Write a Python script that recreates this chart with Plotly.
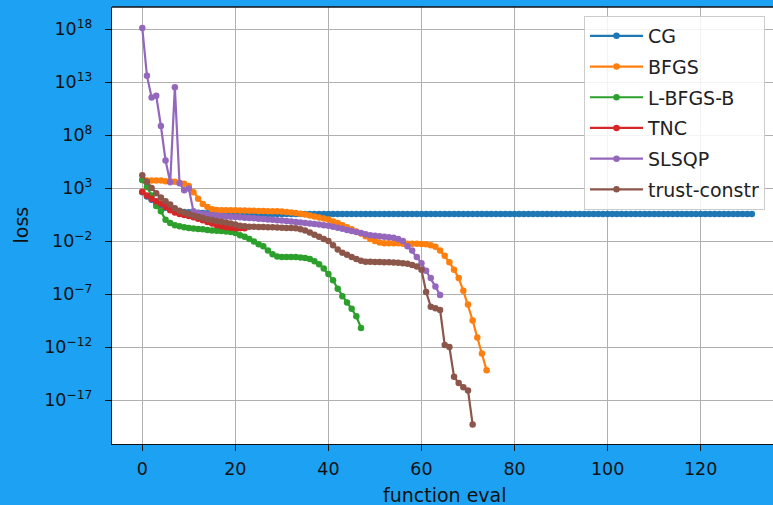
import numpy as np
import plotly.graph_objects as go

# log10(loss) per function evaluation
log_cg = [2.6, 2.2, 1.9, 1.6, 1.4, 1.15, 0.95, 0.85, 0.8, 0.75, 0.72, 0.69, 0.67, 0.65, 0.63, 0.62,
          0.6, 0.6, 0.59, 0.59, 0.58, 0.58, 0.57, 0.57, 0.56, 0.56, 0.56, 0.56, 0.55, 0.55,
          0.55, 0.55, 0.55, 0.55, 0.55, 0.55, 0.55, 0.55, 0.55, 0.55, 0.55, 0.55, 0.55, 0.55,
          0.55, 0.55, 0.55, 0.55, 0.55, 0.55, 0.55, 0.55, 0.55, 0.55, 0.55, 0.55, 0.55, 0.55,
          0.55, 0.55, 0.55, 0.55, 0.55, 0.55, 0.55, 0.55, 0.55, 0.55, 0.55, 0.55, 0.55, 0.55,
          0.55, 0.55, 0.55, 0.55, 0.55, 0.55, 0.55, 0.55, 0.55, 0.55, 0.55, 0.55, 0.55, 0.55,
          0.55, 0.55, 0.55, 0.55, 0.55, 0.55, 0.55, 0.55, 0.55, 0.55, 0.55, 0.55, 0.55, 0.55,
          0.55, 0.55, 0.55, 0.55, 0.55, 0.55, 0.55, 0.55, 0.55, 0.55, 0.55, 0.55, 0.55, 0.55,
          0.55, 0.55, 0.55, 0.55, 0.55, 0.55, 0.55, 0.55, 0.55, 0.55, 0.55, 0.55, 0.55, 0.55,
          0.55, 0.55, 0.55, 0.55]

log_bfgs = [3.75, 3.7, 3.7, 3.7, 3.7, 3.65, 3.65, 3.6, 3.5, 3.4, 3.2, 2.6, 2.0, 1.5, 1.2, 1.0,
            0.92, 0.9, 0.9, 0.9, 0.9, 0.88, 0.87, 0.86, 0.85, 0.84, 0.83, 0.82, 0.81, 0.8,
            0.78, 0.75, 0.7, 0.65, 0.58, 0.5, 0.42, 0.32, 0.22, 0.12, 0.02, -0.15, -0.3, -0.5,
            -0.7, -0.9, -1.1, -1.3, -1.55, -1.8, -2.0, -2.15, -2.2, -2.2, -2.2, -2.22, -2.25,
            -2.25, -2.25, -2.25, -2.28, -2.3, -2.4, -2.55, -2.9, -3.4, -4.0, -4.7, -5.5, -6.7,
            -8.0, -9.5, -11.1, -12.6, -14.2]

log_lbfgsb = [3.75, 3.1, 2.3, 1.3, 0.8, 0.0, -0.3, -0.5, -0.6, -0.7, -0.78, -0.82, -0.86, -0.9,
              -0.95, -1.0, -1.02, -1.05, -1.1, -1.15, -1.25, -1.45, -1.6, -1.8, -2.05, -2.3,
              -2.5, -2.9, -3.25, -3.45, -3.5, -3.5, -3.5, -3.5, -3.55, -3.6, -3.7, -3.9, -4.2,
              -4.6, -5.1, -5.7, -6.5, -7.2, -7.8, -8.4, -9.1, -10.2]

log_tnc = [2.65, 2.3, 2.0, 1.75, 1.55, 1.2, 0.9, 0.7, 0.55, 0.45, 0.35, 0.25, 0.1, -0.05, -0.2,
           -0.35, -0.5, -0.6, -0.7, -0.75, -0.8, -0.8, -0.8]

log_slsqp = [18.1, 13.6, 11.55, 11.7, 8.85, 5.6, 3.55, 12.5, 3.45, 2.8, 2.95, 0.8, 0.65, 0.55,
             0.5, 0.45, 0.4, 0.35, 0.32, 0.3, 0.27, 0.24, 0.2, 0.17, 0.14, 0.1, 0.07, 0.03, 0.0,
             -0.03, -0.07, -0.1, -0.15, -0.2, -0.25, -0.3, -0.35, -0.4, -0.45, -0.5, -0.55,
             -0.65, -0.75, -0.85, -0.95, -1.05, -1.15, -1.25, -1.35, -1.45, -1.5, -1.55, -1.6,
             -1.65, -1.7, -1.8, -2.0, -2.5, -2.9, -3.5, -4.1, -4.8, -5.5, -6.3, -7.1]

log_trust = [4.2, 3.6, 3.0, 2.5, 2.1, 1.75, 1.45, 1.1, 0.85, 0.7, 0.55, 0.4, 0.3, 0.18, 0.05,
             -0.02, -0.1, -0.17, -0.25, -0.35, -0.45, -0.55, -0.6, -0.65, -0.65, -0.67, -0.68,
             -0.7, -0.7, -0.72, -0.74, -0.76, -0.78, -0.8, -0.9, -1.0, -1.2, -1.4, -1.6, -1.8,
             -2.0, -2.4, -2.8, -3.1, -3.3, -3.5, -3.7, -3.85, -3.95, -3.95, -3.97, -3.98, -4.0,
             -4.0, -4.02, -4.05, -4.1, -4.15, -4.25, -4.4, -4.7, -6.8, -8.2, -8.35, -8.5, -11.8,
             -12.0, -14.8, -15.4, -15.8, -16.1, -19.3]

names = ["CG", "BFGS", "L-BFGS-B", "TNC", "SLSQP", "trust-constr"]
series = [log_cg, log_bfgs, log_lbfgsb, log_tnc, log_slsqp, log_trust]
colors = ["#1f77b4", "#ff7f0e", "#2ca02c", "#d62728", "#9467bd", "#8c564b"]

y_tick_exp = [18, 13, 8, 3, -2, -7, -12, -17]
x_ticks = [0, 20, 40, 60, 80, 100, 120]

FONT = "DejaVu Sans"
FS = 17.5
FS_TXT = 19

fig = go.Figure()
for name, vals, col in zip(names, series, colors):
    loss = np.power(10.0, np.array(vals))
    fig.add_trace(go.Scatter(
        x=list(range(len(vals))), y=loss, name=name, legendgroup=name,
        mode="lines+markers",
        line=dict(color=col, width=2.2),
        marker=dict(color=col, size=6.5),
    ))

def sup(e):
    s = str(e).replace("-", "\u2212")
    return "10<sup>" + s + "</sup>"

fig.update_layout(
    width=773, height=505,
    margin=dict(l=112, r=0, t=7, b=61),
    paper_bgcolor="#1DA1F2",
    plot_bgcolor="white",
    font=dict(family=FONT, size=FS, color="#111111"),
    showlegend=True,
    legend=dict(
        x=(584 - 112) / 661, y=(444 - 16) / 437, xanchor="left", yanchor="top",
        bgcolor="rgba(255,255,255,0.85)", bordercolor="#cccccc", borderwidth=1,
        font=dict(family=FONT, size=FS_TXT, color="#222222"),
        tracegroupgap=3, traceorder="grouped", itemwidth=53,
    ),
    xaxis=dict(
        range=[-6.51, 135.55], tickvals=x_ticks,
        showgrid=True, gridcolor="#b0b0b0", gridwidth=1.3,
        zeroline=False, showline=True, linecolor="#111111", linewidth=1.3, mirror=False,
        ticks="outside", ticklen=6, tickwidth=1.3, tickcolor="#111111",
        tickfont=dict(family=FONT, size=FS), ticklabelstandoff=3,
    ),
    yaxis=dict(
        type="log", range=[-21.15, 20.08],
        tickvals=[10.0 ** e for e in y_tick_exp], ticktext=[sup(e) for e in y_tick_exp],
        showgrid=True, gridcolor="#b0b0b0", gridwidth=1.3,
        zeroline=False, showline=True, linecolor="#111111", linewidth=1.3, mirror=False,
        ticks="outside", ticklen=6, tickwidth=1.3, tickcolor="#111111",
        tickfont=dict(family=FONT, size=FS), ticklabelstandoff=9,
    ),
    shapes=[dict(type="line", xref="paper", yref="paper", x0=0, x1=1, y0=1, y1=1,
                 line=dict(color="#111111", width=1.3))],
    annotations=[
        dict(text="function eval", xref="paper", yref="paper", x=(444.5 - 112) / 661, y=0,
             xanchor="center", yanchor="middle", yshift=-51, showarrow=False,
             font=dict(family=FONT, size=FS_TXT, color="#111111")),
        dict(text="loss", xref="paper", yref="paper", x=0, y=0.5, xanchor="center",
             yanchor="middle", xshift=-92, textangle=-90, showarrow=False,
             font=dict(family=FONT, size=FS_TXT, color="#111111")),
    ],
)

fig.write_html("out.html", config={"displayModeBar": False},
               post_script="document.body.style.margin='0';document.body.style.overflow='hidden';")
